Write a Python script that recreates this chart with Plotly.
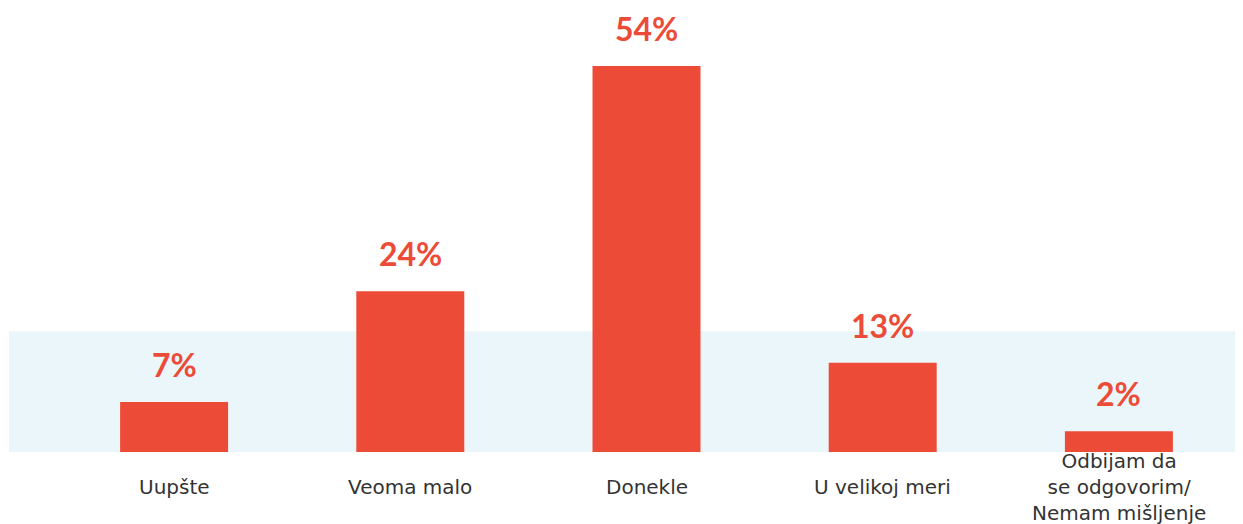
import plotly.graph_objects as go

categories = ["Uupšte", "Veoma malo", "Donekle", "U velikoj meri",
              "Odbijam da<br>se odgovorim/<br>Nemam mišljenje"]
values = [7.0, 22.5, 54.0, 12.5, 2.9]
value_labels = ["7%", "24%", "54%", "13%", "2%"]
band_top = 16.9

RED = "#EC4B37"
BAND = "#EBF6FB"

# the page body has an 8px margin, so the figure starts at (8, 8)
W, H = 1243, 516
ML, MR, MT, MB = 48, 14, 12, 72
plot_h = H - MT - MB
plot_w = W - ML - MR
px_per_unit = 386 / 54.0
ymax = plot_h / px_per_unit

fig = go.Figure()
fig.add_trace(go.Bar(
    x=list(range(len(categories))), y=values,
    marker=dict(color=RED, line=dict(width=0)),
    hoverinfo="skip",
))

# light blue band behind the bars
fig.add_shape(type="rect", xref="paper", yref="y",
              x0=(1 - ML) / plot_w, x1=(W - ML) / plot_w,
              y0=0, y1=band_top, fillcolor=BAND, line=dict(width=0),
              layer="below")

for i, (v, t) in enumerate(zip(values, value_labels)):
    fig.add_annotation(x=i, y=v, xref="x", yref="y", text=t, showarrow=False,
                       yanchor="bottom", yshift=16,
                       font=dict(family="Lato", size=32, color=RED, weight="bold"))

label_y = -(479 - (H - MB)) / plot_h
for i, c in enumerate(categories):
    fig.add_annotation(x=i, y=label_y, xref="x", yref="paper",
                       text=c, showarrow=False, yanchor="middle",
                       font=dict(family="DejaVu Sans", size=20, color="#333333"))

fig.update_layout(
    width=W, height=H,
    margin=dict(l=ML, r=MR, t=MT, b=MB),
    plot_bgcolor="white", paper_bgcolor="white",
    bargap=1 - 108 / 236.25,
    showlegend=False,
    xaxis=dict(range=[-0.5, len(categories) - 0.5], showticklabels=False,
               showgrid=False, zeroline=False, showline=False, ticks=""),
    yaxis=dict(range=[0, ymax], visible=False, showgrid=False, zeroline=False),
)

fig.write_html("out.html")
